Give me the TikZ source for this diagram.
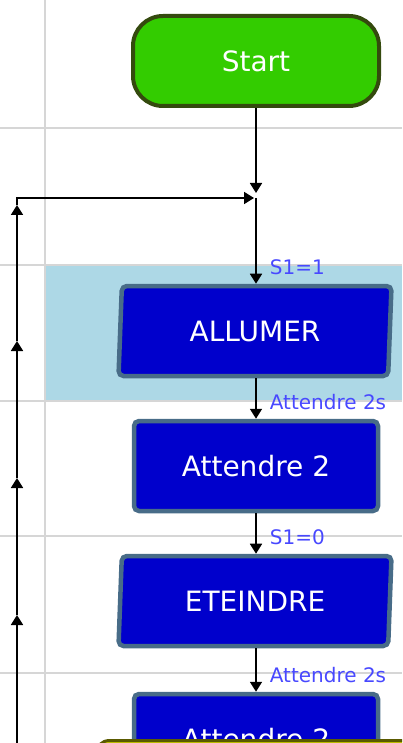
\documentclass[tikz,border=0pt]{standalone}
\usepackage{fontspec}
\setmainfont{DejaVu Sans}
\usetikzlibrary{arrows.meta,shapes.geometric}
\definecolor{gridgray}{RGB}{214,214,214}
\definecolor{bandblue}{RGB}{173,216,230}
\definecolor{startgreen}{RGB}{51,204,0}
\definecolor{startedge}{RGB}{52,74,14}
\definecolor{boxblue}{RGB}{0,0,204}
\definecolor{boxedge}{RGB}{72,108,136}
\definecolor{condblue}{RGB}{72,72,255}
\definecolor{endyellow}{RGB}{200,200,0}
\definecolor{endedge}{RGB}{90,90,0}

\begin{document}
\begin{tikzpicture}[x=1pt,y=-1pt,
  flow/.style={-{Triangle[width=12pt,length=10pt]}, line width=1.8pt},
  cond/.style={text=condblue, font=\fontsize{20}{22}\selectfont, inner sep=0pt, anchor=base west},
  terminal/.style={draw=startedge, fill=startgreen, line width=4pt, rounded corners=30pt, text=white, font=\fontsize{28}{30}\selectfont, minimum width=246pt, minimum height=90pt},
  action/.style={draw=boxedge, fill=boxblue, line width=4.5pt, rounded corners=5pt, text=white, font=\fontsize{28}{30}\selectfont, minimum width=244pt, minimum height=90pt},
  output/.style={action, shape=trapezium, trapezium left angle=83, trapezium right angle=97, trapezium stretches body, minimum width=273pt}]
\clip (0,0) rectangle (402,743);

% Background grid
\fill[bandblue] (45,265) rectangle (402,401);
\draw[gridgray, line width=1.5pt] (45,0) -- (45,743);
\foreach \y in {128,265,401,536,673}
  \draw[gridgray, line width=1.5pt] (0,\y) -- (402,\y);

% Steps
\node[terminal] (start) at (256,61) {Start};
\node[output] (allumer) at (255,331) {ALLUMER};
\node[action] (att1) at (256,466) {Attendre 2};
\node[output] (eteindre) at (255,601) {ETEINDRE};
\node[action] (att2) at (256,739) {Attendre 2};
\node[draw=endedge, fill=endyellow, line width=3pt, rounded corners=14pt, minimum width=400pt, minimum height=60pt, anchor=north west] (next) at (94,739) {};

% Loop back
\coordinate (j) at (256,198);
\coordinate (c0) at (17,205);
\coordinate (c1) at (17,341);
\coordinate (c2) at (17,478);
\coordinate (c3) at (17,615);
\coordinate (c4) at (17,760);

% Arrows
\draw[flow, shorten >=5pt] (start) -- (j);
\draw[flow] (c4) -- (c3);
\draw[flow] (c3) -- (c2);
\draw[flow] (c2) -- (c1);
\draw[flow] (c1) -- (c0);
\draw[flow, shorten >=2pt] (c0) |- (j);
\draw[flow] (j) -- node[cond, pos=1, xshift=13pt, yshift=9pt] {S1=1} (allumer.north -| j);
\draw[flow] (allumer.south -| j) -- node[cond, pos=1, xshift=13pt, yshift=9pt] {Attendre 2s} (att1);
\draw[flow] (att1) -- node[cond, pos=1, xshift=13pt, yshift=9pt] {S1=0} (eteindre.north -| j);
\draw[flow] (eteindre.south -| j) -- node[cond, pos=1, xshift=13pt, yshift=9pt] {Attendre 2s} (att2);
\end{tikzpicture}
\end{document}
